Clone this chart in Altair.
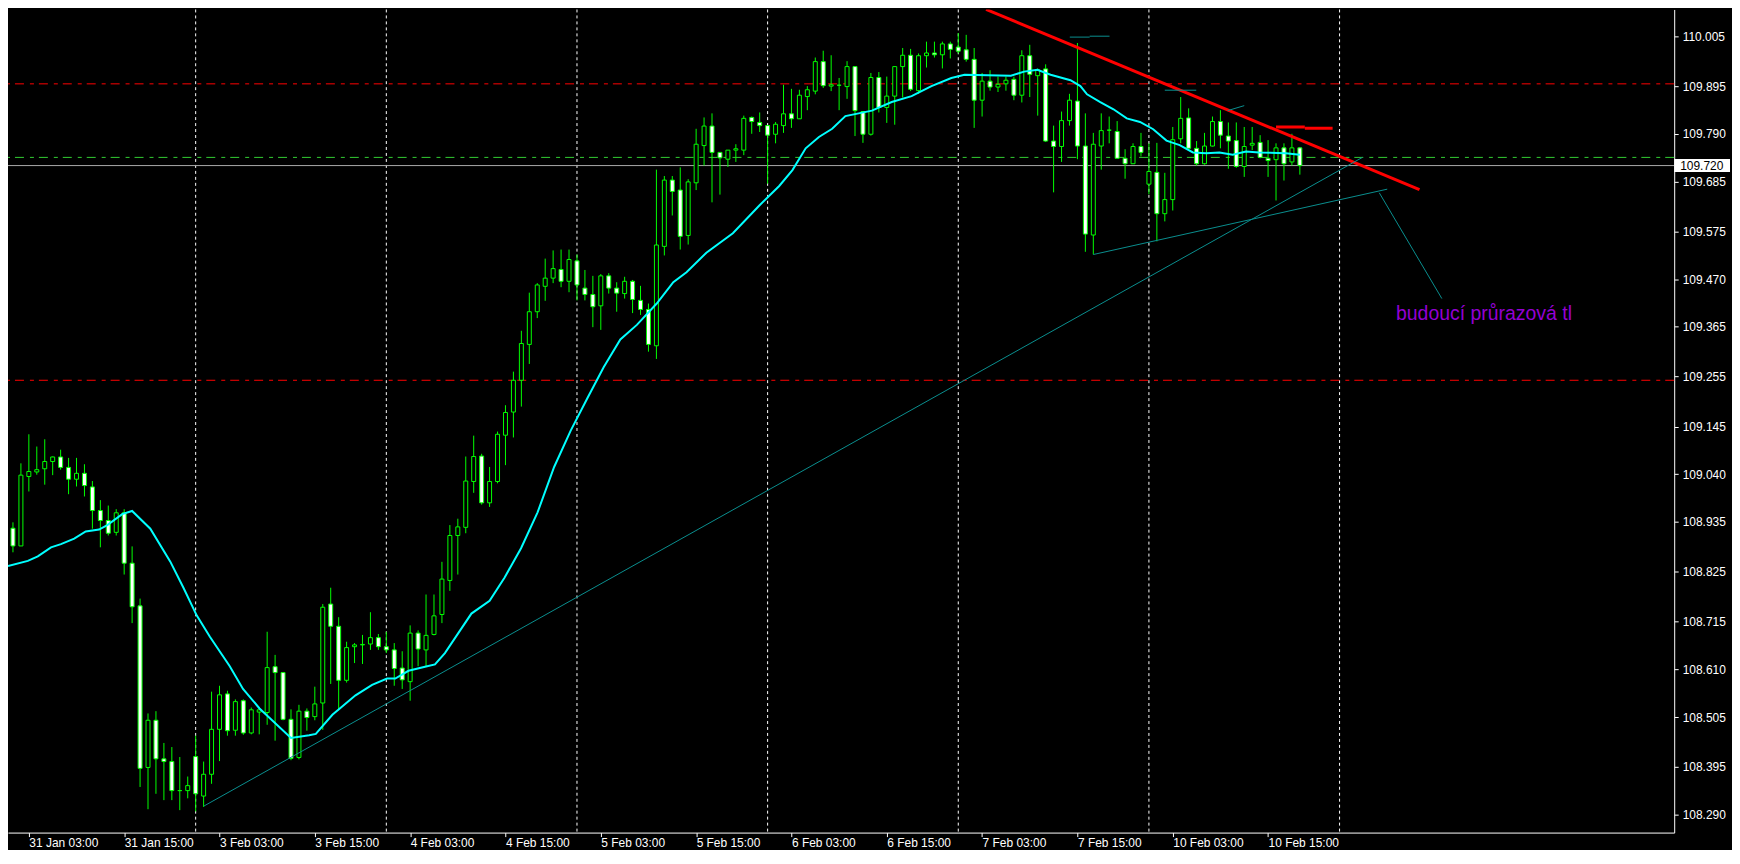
import json
import altair as alt
import pandas as pd

# ---------------- candle data (H1, index k = hours since 31 Jan 00:00, weekend skipped) ----
k_idx = list(range(1, 164))
opens = [108.921, 108.882, 109.035, 109.045, 109.052, 109.068, 109.078, 109.055, 109.029, 109.042,
         109.012, 108.960, 108.938, 108.912, 108.955, 108.844, 108.750, 108.394, 108.498, 108.413,
         108.407, 108.343, 108.343, 108.418, 108.331, 108.379, 108.478, 108.556, 108.476, 108.541,
         108.470, 108.516, 108.515, 108.616, 108.603, 108.500, 108.416, 108.518, 108.506, 108.536,
         108.754, 108.705, 108.586, 108.660, 108.664, 108.666, 108.680, 108.660, 108.653, 108.613,
         108.583, 108.690, 108.653, 108.687, 108.731, 108.806, 108.905, 108.923, 109.024, 109.080,
         108.977, 109.024, 109.126, 109.177, 109.247, 109.326, 109.398, 109.454, 109.472, 109.491,
         109.465, 109.510, 109.450, 109.436, 109.411, 109.477, 109.450, 109.438, 109.465, 109.423,
         109.403, 109.323, 109.542, 109.688, 109.666, 109.566, 109.682, 109.764, 109.807, 109.749,
         109.734, 109.754, 109.754, 109.826, 109.815, 109.808, 109.789, 109.808, 109.834, 109.823,
         109.872, 109.884, 109.949, 109.895, 109.897, 109.894, 109.938, 109.839, 109.789, 109.914,
         109.848, 109.873, 109.938, 109.963, 109.885, 109.962, 109.968, 109.964, 109.988, 109.981,
         109.975, 109.954, 109.864, 109.906, 109.893, 109.900, 109.910, 109.875, 109.962, 109.918,
         109.933, 109.774, 109.762, 109.819, 109.862, 109.763, 109.567, 109.763, 109.798, 109.795,
         109.736, 109.724, 109.762, 109.679, 109.705, 109.614, 109.645, 109.779, 109.825, 109.758,
         109.724, 109.763, 109.817, 109.785, 109.775, 109.718, 109.765, 109.771, 109.736, 109.733,
         109.759, 109.728, 109.759]
highs = [108.934, 109.064, 109.128, 109.101, 109.117, 109.079, 109.094, 109.076, 109.076, 109.062,
         109.025, 108.983, 108.971, 108.963, 108.963, 108.881, 108.766, 108.513, 108.518, 108.448,
         108.439, 108.417, 108.374, 108.464, 108.407, 108.561, 108.574, 108.563, 108.544, 108.544,
         108.526, 108.527, 108.693, 108.642, 108.604, 108.522, 108.532, 108.524, 108.572, 108.754,
         108.790, 108.725, 108.671, 108.668, 108.686, 108.736, 108.688, 108.693, 108.668, 108.650,
         108.707, 108.696, 108.775, 108.775, 108.847, 108.928, 108.942, 109.079, 109.125, 109.085,
         109.056, 109.134, 109.192, 109.266, 109.356, 109.440, 109.461, 109.515, 109.533, 109.535,
         109.535, 109.524, 109.490, 109.477, 109.481, 109.483, 109.463, 109.475, 109.468, 109.455,
         109.416, 109.711, 109.697, 109.697, 109.716, 109.690, 109.801, 109.826, 109.835, 109.749,
         109.754, 109.767, 109.830, 109.828, 109.837, 109.808, 109.816, 109.898, 109.889, 109.887,
         109.895, 109.958, 109.973, 109.963, 109.913, 109.950, 109.938, 109.839, 109.924, 109.926,
         109.916, 109.938, 109.979, 109.977, 109.967, 109.993, 109.993, 109.993, 109.993, 110.012,
         110.008, 109.979, 109.924, 109.930, 109.916, 109.916, 109.916, 109.974, 109.986, 109.934,
         109.943, 109.808, 109.839, 109.878, 109.990, 109.835, 109.792, 109.835, 109.828, 109.818,
         109.756, 109.769, 109.792, 109.769, 109.770, 109.704, 109.805, 109.871, 109.846, 109.774,
         109.792, 109.828, 109.842, 109.815, 109.815, 109.805, 109.805, 109.787, 109.776, 109.769,
         109.769, 109.790, 109.761]
lows = [108.868, 108.882, 109.002, 109.039, 109.017, 109.038, 109.050, 108.996, 109.013, 108.991,
        108.920, 108.879, 108.905, 108.905, 108.819, 108.712, 108.351, 108.302, 108.336, 108.322,
        108.322, 108.300, 108.326, 108.297, 108.307, 108.358, 108.408, 108.464, 108.464, 108.466,
        108.467, 108.467, 108.488, 108.453, 108.498, 108.410, 108.412, 108.475, 108.498, 108.477,
        108.578, 108.520, 108.581, 108.624, 108.622, 108.653, 108.653, 108.646, 108.574, 108.567,
        108.541, 108.617, 108.617, 108.685, 108.712, 108.783, 108.819, 108.910, 108.999, 108.973,
        108.968, 109.020, 109.060, 109.121, 109.189, 109.283, 109.384, 109.422, 109.461, 109.452,
        109.441, 109.423, 109.423, 109.364, 109.358, 109.438, 109.398, 109.427, 109.395, 109.391,
        109.310, 109.294, 109.522, 109.610, 109.535, 109.546, 109.666, 109.720, 109.639, 109.656,
        109.717, 109.728, 109.743, 109.790, 109.794, 109.680, 109.769, 109.792, 109.803, 109.823,
        109.842, 109.877, 109.891, 109.884, 109.842, 109.867, 109.785, 109.770, 109.786, 109.837,
        109.814, 109.810, 109.870, 109.884, 109.878, 109.936, 109.958, 109.934, 109.956, 109.967,
        109.949, 109.803, 109.828, 109.885, 109.882, 109.885, 109.864, 109.859, 109.871, 109.830,
        109.772, 109.661, 109.728, 109.808, 109.734, 109.530, 109.524, 109.711, 109.769, 109.736,
        109.691, 109.724, 109.740, 109.657, 109.553, 109.597, 109.621, 109.769, 109.754, 109.720,
        109.722, 109.762, 109.758, 109.713, 109.715, 109.695, 109.754, 109.736, 109.695, 109.643,
        109.687, 109.720, 109.700]
closes = [108.882, 109.038, 109.046, 109.050, 109.068, 109.078, 109.055, 109.029, 109.042, 109.015,
          108.960, 108.938, 108.910, 108.955, 108.844, 108.748, 108.392, 108.498, 108.413, 108.407,
          108.343, 108.343, 108.354, 108.336, 108.379, 108.478, 108.554, 108.475, 108.539, 108.470,
          108.521, 108.521, 108.614, 108.603, 108.500, 108.414, 108.518, 108.504, 108.534, 108.747,
          108.705, 108.586, 108.658, 108.664, 108.665, 108.680, 108.660, 108.653, 108.612, 108.587,
          108.690, 108.655, 108.685, 108.728, 108.809, 108.905, 108.924, 109.025, 109.079, 108.977,
          109.024, 109.128, 109.176, 109.247, 109.328, 109.398, 109.457, 109.472, 109.493, 109.465,
          109.513, 109.457, 109.436, 109.409, 109.477, 109.450, 109.439, 109.465, 109.425, 109.403,
          109.326, 109.545, 109.688, 109.663, 109.564, 109.684, 109.767, 109.807, 109.749, 109.737,
          109.754, 109.757, 109.824, 109.817, 109.808, 109.787, 109.811, 109.834, 109.823, 109.875,
          109.887, 109.949, 109.896, 109.898, 109.897, 109.938, 109.841, 109.789, 109.914, 109.848,
          109.873, 109.938, 109.963, 109.888, 109.962, 109.968, 109.964, 109.988, 109.976, 109.972,
          109.954, 109.864, 109.906, 109.893, 109.899, 109.908, 109.875, 109.962, 109.921, 109.931,
          109.774, 109.762, 109.819, 109.864, 109.763, 109.569, 109.767, 109.797, 109.798, 109.736,
          109.724, 109.762, 109.749, 109.707, 109.614, 109.645, 109.777, 109.824, 109.758, 109.724,
          109.763, 109.817, 109.787, 109.774, 109.718, 109.762, 109.769, 109.738, 109.731, 109.759,
          109.724, 109.759, 109.720]

# ---------------- moving average (cyan) ----------------
ma_k = [0.375, 2.875, 4.125, 5.79, 7.04, 8.71, 10.16, 11.84, 12.875, 14.75, 16.0, 18.29, 20.79,
        22.46, 24.125, 25.79, 28.29, 29.96, 32.04, 36.0, 38.29, 39.125, 41.21, 44.125, 46.21,
        48.09, 49.125, 50.79, 52.875, 54.125, 55.375, 58.71, 61.0, 62.875, 64.96, 67.04, 69.125,
        71.21, 73.29, 75.375, 77.46, 79.54, 82.04, 84.125, 85.79, 88.29, 91.625, 94.96, 97.46,
        99.125, 100.79, 102.46, 104.125, 105.79, 107.46, 109.125, 111.625, 114.125, 116.625,
        119.125, 120.79, 126.625, 128.29, 129.96, 131.625, 134.125, 135.375, 136.21, 137.875,
        139.54, 141.21, 142.875, 144.54, 146.21, 147.875, 149.54, 151.21, 152.875, 154.54,
        156.21, 157.875, 161.21, 163.0]
ma_p = [108.838, 108.849, 108.859, 108.879, 108.886, 108.898, 108.914, 108.918, 108.928, 108.952,
        108.959, 108.920, 108.848, 108.790, 108.729, 108.682, 108.617, 108.567, 108.524, 108.459,
        108.465, 108.468, 108.510, 108.553, 108.576, 108.590, 108.590, 108.607, 108.616, 108.621,
        108.646, 108.733, 108.761, 108.812, 108.877, 108.956, 109.056, 109.136, 109.207, 109.276,
        109.337, 109.369, 109.416, 109.463, 109.485, 109.528, 109.571, 109.632, 109.675, 109.710,
        109.758, 109.783, 109.801, 109.829, 109.835, 109.841, 109.860, 109.873, 109.895, 109.913,
        109.920, 109.918, 109.927, 109.931, 109.920, 109.908, 109.895, 109.877, 109.860, 109.844,
        109.824, 109.816, 109.800, 109.775, 109.765, 109.749, 109.747, 109.749, 109.744, 109.751,
        109.749, 109.747, 109.744]

# ---------------- axes ----------------
tick_idx = [3, 15, 27, 39, 51, 63, 75, 87, 99, 111, 123, 135, 147, 159]
tick_labels = ["31 Jan 03:00", "31 Jan 15:00", "3 Feb 03:00", "3 Feb 15:00", "4 Feb 03:00",
               "4 Feb 15:00", "5 Feb 03:00", "5 Feb 15:00", "6 Feb 03:00", "6 Feb 15:00",
               "7 Feb 03:00", "7 Feb 15:00", "10 Feb 03:00", "10 Feb 15:00"]
price_ticks = [110.005, 109.895, 109.790, 109.685, 109.575, 109.470, 109.365, 109.255, 109.145,
               109.040, 108.935, 108.825, 108.715, 108.610, 108.505, 108.395, 108.290]
day_grid_k = [24, 48, 72, 96, 120, 144, 168]

# ---------------- horizontal levels ----------------
red_levels = [109.900, 109.247]
green_levels = [109.738]
bid_price = [109.720]

# ---------------- drawn objects ----------------
red_trend_k1, red_trend_k2 = [123.5, 160.0, 163.625], [178.06, 163.625, 167.125]
red_trend_p1, red_trend_p2 = [110.064, 109.805, 109.802], [109.667, 109.805, 109.802]

teal_k1 = [25.04, 137.0, 173.0, 134.04, 136.54, 146.0, 153.9]
teal_k2 = [170.875, 174.0, 180.875, 136.54, 139.04, 149.96, 156.0]
teal_p1 = [108.309, 109.524, 109.660, 110.003, 110.005, 109.886, 109.841]
teal_p2 = [109.738, 109.668, 109.427, 110.003, 110.005, 109.886, 109.852]

note_text = ["budoucí průrazová tl"]
note_k = [175.1]
note_p = [109.394]

# ---------------- build ----------------
candles = pd.DataFrame({"k": k_idx, "open": opens, "high": highs, "low": lows, "close": closes})
candles["k0"] = candles["k"] - 0.25
candles["k1"] = candles["k"] + 0.25
candles["top"] = candles[["open", "close"]].max(axis=1)
candles["bot"] = candles[["open", "close"]].min(axis=1)

ma_df = pd.DataFrame({"k": ma_k, "p": ma_p})
grid_df = pd.DataFrame({"k": day_grid_k})
red_lv = pd.DataFrame({"p": red_levels})
green_lv = pd.DataFrame({"p": green_levels})
bid_df = pd.DataFrame({"p": bid_price, "label": [f"{v:.3f}" for v in bid_price]})
red_tr = pd.DataFrame({"k1": red_trend_k1, "k2": red_trend_k2, "p1": red_trend_p1, "p2": red_trend_p2})
teal_tr = pd.DataFrame({"k1": teal_k1, "k2": teal_k2, "p1": teal_p1, "p2": teal_p2})
note_df = pd.DataFrame({"k": note_k, "p": note_p, "t": note_text})

FONT = "Liberation Sans"
xs = alt.Scale(domain=[0.375, 210.125], nice=False, zero=False)
ys = alt.Scale(domain=[108.2505, 110.0639], nice=False, zero=False)

lab_expr = "{}[indexof({}, datum.value)]".format(json.dumps(tick_labels), json.dumps(tick_idx))
xaxis = alt.Axis(values=tick_idx, labelExpr=lab_expr, labelAlign="left", labelBaseline="top",
                 labelPadding=1, labelColor="white", labelFont=FONT, labelFontSize=12,
                 tickColor="white", tickSize=4, domainColor="white", grid=False,
                 labelOverlap=False, labelFlush=False, title=None)
yaxis = alt.Axis(orient="right", values=price_ticks, format=".3f", labelColor="white",
                 labelFont=FONT, labelFontSize=12, tickColor="white", tickSize=4,
                 labelPadding=4, domainColor="white", grid=False, labelOverlap=False,
                 labelFlush=False, title=None)


def X(f):
    return alt.X(f, type="quantitative", scale=xs, axis=xaxis)


def Y(f):
    return alt.Y(f, type="quantitative", scale=ys, axis=yaxis)


DASHDOT = [9, 5, 4, 6]
grid = alt.Chart(grid_df).mark_rule(color="white", strokeDash=[3, 3], strokeWidth=1).encode(x=X("k"))
red_h = alt.Chart(red_lv).mark_rule(color="#ff0000", strokeDash=DASHDOT, strokeWidth=1).encode(y=Y("p"))
green_h = alt.Chart(green_lv).mark_rule(color="#32cd32", strokeDash=DASHDOT, strokeWidth=1).encode(y=Y("p"))
bid_h = alt.Chart(bid_df).mark_rule(color="#a9a9a9", strokeWidth=1).encode(y=Y("p"))

wicks = alt.Chart(candles).mark_rule(color="#00ff00", strokeWidth=1, clip=True).encode(
    x=X("k"), y=Y("low"), y2="high")
bodies = alt.Chart(candles).mark_rect(stroke="#00ff00", strokeWidth=1, clip=True).encode(
    x=X("k0"), x2="k1", y=Y("bot"), y2="top",
    fill=alt.condition("datum.close < datum.open", alt.value("white"), alt.value("black")))

ma = alt.Chart(ma_df).mark_line(color="#00ffff", strokeWidth=2, clip=True).encode(x=X("k"), y=Y("p"))

red_lines = alt.Chart(red_tr).mark_rule(color="#ff0000", strokeWidth=3, clip=True).encode(
    x=X("k1"), x2="k2", y=Y("p1"), y2="p2")
teal_lines = alt.Chart(teal_tr).mark_rule(color="#0a8f8f", strokeWidth=1, clip=True).encode(
    x=X("k1"), x2="k2", y=Y("p1"), y2="p2")

note = alt.Chart(note_df).mark_text(align="left", baseline="middle", color="#9400d3",
                                    font=FONT, fontSize=19.5).encode(x=X("k"), y=Y("p"), text="t")

bid_box = alt.Chart(bid_df).mark_point(shape="M-1,-0.232H1V0.232H-1Z", filled=True, size=3136,
                                        color="white", opacity=1).encode(
    x=alt.value(1700), y=Y("p"))
bid_txt = alt.Chart(bid_df).mark_text(align="left", baseline="middle", color="black",
                                       font=FONT, fontSize=12).encode(
    x=alt.value(1678), y=Y("p"), text="label")

chart = alt.layer(grid, red_h, green_h, bid_h, wicks, bodies, ma, red_lines, teal_lines,
                  note, bid_box, bid_txt).properties(
    width=1672, height=826,
    autosize=alt.AutoSizeParams(type="none"),
    padding={"left": 0, "top": 0, "right": 58, "bottom": 16},
    background="black",
).configure_view(strokeWidth=0)

chart.save("out.html", embed_options={"renderer": "svg", "actions": False})
